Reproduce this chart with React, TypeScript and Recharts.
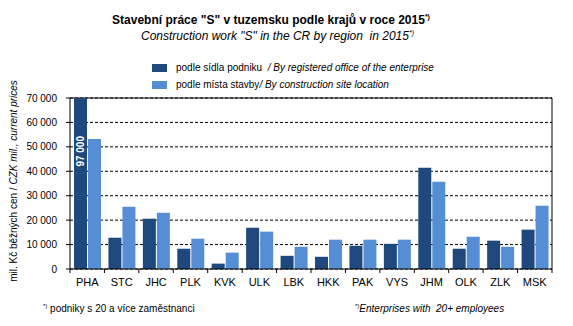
import { BarChart, Bar, XAxis, YAxis, CartesianGrid, LabelList } from 'recharts'

const categories = ['PHA', 'STC', 'JHC', 'PLK', 'KVK', 'ULK', 'LBK', 'HKK', 'PAK', 'VYS', 'JHM', 'OLK', 'ZLK', 'MSK']
const byOffice = [97000, 12800, 20600, 8300, 2200, 16900, 5400, 5000, 9500, 10300, 41400, 8300, 11600, 16100]
const bySite = [53200, 25500, 23000, 12400, 6700, 15300, 9100, 12000, 12000, 12000, 35700, 13200, 9100, 25900]
const yTicks = [0, 10000, 20000, 30000, 40000, 50000, 60000, 70000]

const DARK = '#1F497D'
const LIGHT = '#558ED5'
const FONT = '"Liberation Sans", Arial, sans-serif'
const PLOT_TOP = 98

const data = categories.map((cat, i) => ({ cat, office: byOffice[i], site: bySite[i] }))

const fmt = (v: number) => String(v).replace(/\B(?=(\d{3})+(?!\d))/g, ' ')

// value label only for the clipped Prague bar
const OverflowLabel = (props: any) => {
  const { x, width, y, value, index } = props
  if (index !== 0) return null
  const cx = Number(x) + Number(width) / 2
  const top = Math.max(Number(y), PLOT_TOP) + 38
  return (
    <text
      x={cx}
      y={top}
      transform={`rotate(-90 ${cx} ${top})`}
      textAnchor="end"
      dominantBaseline="central"
      fill="#fff"
      fontWeight="bold"
      fontSize={10}
      fontFamily={FONT}
    >
      {fmt(value)}
    </text>
  )
}

// category label + tick marks between categories
const CatTick = (props: any) => {
  const { x, y, payload, index, visibleTicksCount } = props
  const half = payload.offset || 0
  const axisY = y - 9
  return (
    <g>
      <line x1={x - half} x2={x - half} y1={axisY} y2={axisY + 4} stroke="#000" />
      {index === visibleTicksCount - 1 && (
        <line x1={x + half} x2={x + half} y1={axisY} y2={axisY + 4} stroke="#000" />
      )}
      <text x={x} y={y} dy="0.71em" textAnchor="middle" fill="#000" fontSize={11} fontFamily={FONT}>
        {payload.value}
      </text>
    </g>
  )
}

const LegendBox = () => (
  <div style={{ position: 'absolute', left: 152, top: 59, fontSize: 10, color: '#000', lineHeight: '17px' }}>
    <div style={{ display: 'flex', alignItems: 'center' }}>
      <span style={{ width: 15, height: 8, background: DARK, display: 'inline-block', marginRight: 9 }} />
      <span>podle sídla podniku&nbsp; <i>/ By registered office of the enterprise</i></span>
    </div>
    <div style={{ display: 'flex', alignItems: 'center' }}>
      <span style={{ width: 15, height: 8, background: LIGHT, display: 'inline-block', marginRight: 9 }} />
      <span>podle místa stavby<i>/ By construction site location</i></span>
    </div>
  </div>
)

const AxisTitle = () => (
  <text
    x={13}
    y={181}
    transform="rotate(-90 13 181)"
    textAnchor="middle"
    dominantBaseline="central"
    fontSize={10}
    fontFamily={FONT}
    fill="#000"
  >
    mil. Kč běžných cen / <tspan fontStyle="italic">CZK mil., current prices</tspan>
  </text>
)

export default function App() {
  return (
    <div style={{ position: 'absolute', left: 0, top: 0, width: 573, height: 326, background: '#fff', fontFamily: FONT }}>
      <div style={{ position: 'absolute', left: 0, width: 542, top: 13, textAlign: 'center', fontWeight: 'bold', fontSize: 12 }}>
        Stavební práce "S" v tuzemsku podle krajů v roce 2015<sup style={{ fontSize: 7 }}>*)</sup>
      </div>
      <div style={{ position: 'absolute', left: 0, width: 555, top: 29, textAlign: 'center', fontStyle: 'italic', fontSize: 12 }}>
        Construction work "S" in the CR by region&nbsp; in 2015<sup style={{ fontSize: 7 }}>*)</sup>
      </div>
      <LegendBox />
      <BarChart
        width={573}
        height={326}
        data={data}
        margin={{ top: PLOT_TOP, right: 21, bottom: 27, left: 0 }}
        barSize={13}
        barGap={1}
      >
        <CartesianGrid vertical={false} stroke="#000" strokeDasharray="3 2" />
        {/* solid frame on top and right */}
        <CartesianGrid
          stroke="#000"
          horizontalCoordinatesGenerator={({ offset }: any) => [offset.top]}
          verticalCoordinatesGenerator={({ offset }: any) => [offset.left + offset.width]}
        />
        <XAxis
          dataKey="cat"
          height={30}
          tickLine={false}
          tickSize={0}
          tickMargin={9}
          interval={0}
          axisLine={{ stroke: '#000' }}
          tick={<CatTick />}
        />
        <YAxis
          domain={[0, 70000]}
          ticks={yTicks}
          allowDataOverflow
          width={70}
          tickSize={4}
          tickMargin={9}
          tickFormatter={fmt}
          axisLine={{ stroke: '#000' }}
          tickLine={{ stroke: '#000' }}
          tick={{ fill: '#000', fontSize: 10, fontFamily: FONT }}
          label={{ content: () => <AxisTitle /> }}
        />
        <Bar dataKey="office" fill={DARK} isAnimationActive={false}>
          <LabelList dataKey="office" content={OverflowLabel} />
        </Bar>
        <Bar dataKey="site" fill={LIGHT} isAnimationActive={false} />
      </BarChart>
      <div style={{ position: 'absolute', left: 43, top: 303, fontSize: 10 }}>
        <sup style={{ fontSize: 6 }}>*)</sup> podniky s 20 a více zaměstnanci
      </div>
      <div style={{ position: 'absolute', left: 355, top: 303, fontSize: 10, fontStyle: 'italic' }}>
        <sup style={{ fontSize: 6, fontStyle: 'normal' }}>*)</sup>Enterprises with&nbsp; 20+ employees
      </div>
    </div>
  )
}
